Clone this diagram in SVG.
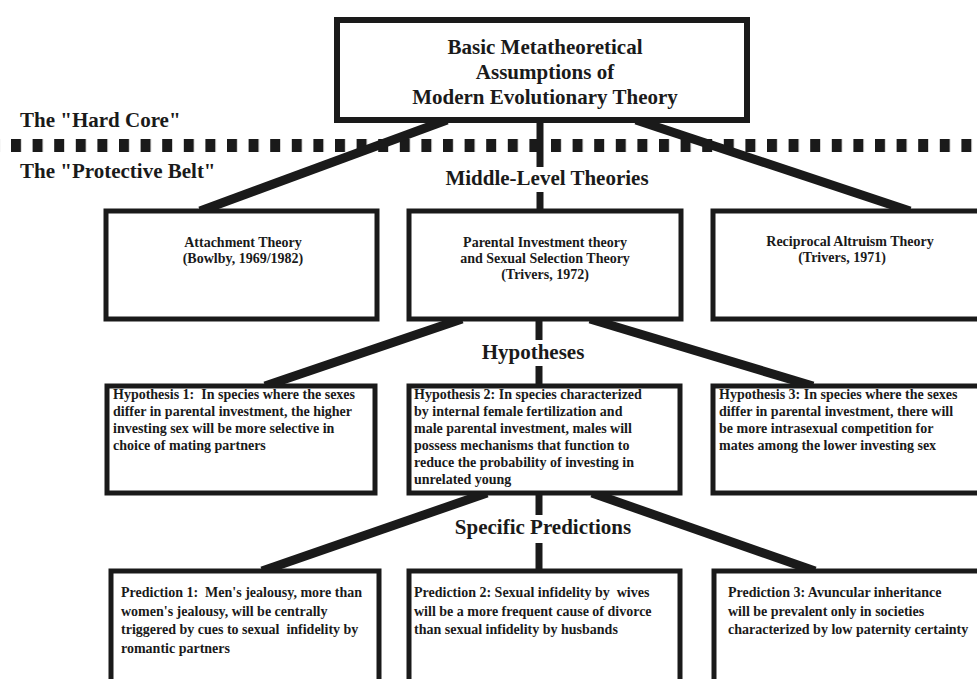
<svg xmlns="http://www.w3.org/2000/svg" width="977" height="679" viewBox="0 0 977 679">
<defs>
<style>
.bx{fill:#fff;stroke:#1a1a1a;stroke-width:5}
.t{font-family:"Liberation Serif","Times New Roman",serif;font-weight:bold;fill:#1a1a1a;white-space:pre}
.big{font-size:21px}
.sm{font-size:14px}
.c{text-anchor:middle}
.ln{stroke:#1a1a1a;stroke-width:9;fill:none}
.vl{stroke:#1a1a1a;stroke-width:7;fill:none}
</style>
<pattern id="dots" x="11" y="0" width="21.6" height="679" patternUnits="userSpaceOnUse">
<rect x="0" y="139" width="10" height="13" fill="#1a1a1a"/>
</pattern>
</defs>
<rect width="977" height="679" fill="#fff"/>
<rect x="0" y="139" width="977" height="13" fill="url(#dots)"/>
<text class="t big" x="20" y="127">The "Hard Core"</text>
<text class="t big" x="20" y="178">The "Protective Belt"</text>
<g id="connectors">
<line class="ln" x1="447" y1="120" x2="200" y2="211"/>
<line class="ln" x1="636" y1="120" x2="910" y2="211"/>
<line class="vl" x1="540" y1="120" x2="540" y2="167"/>
<line class="vl" x1="540" y1="192" x2="540" y2="211"/>
<line class="ln" x1="462" y1="319" x2="265" y2="386"/>
<line class="ln" x1="590" y1="319" x2="813" y2="386"/>
<line class="vl" x1="539" y1="319" x2="539" y2="340"/>
<line class="vl" x1="539" y1="366" x2="539" y2="386"/>
<line class="ln" x1="487" y1="493" x2="262" y2="571"/>
<line class="ln" x1="592" y1="493" x2="815" y2="571"/>
<line class="vl" x1="539" y1="493" x2="539" y2="515"/>
<line class="vl" x1="539" y1="543" x2="539" y2="571"/>
</g>
<text class="t big c" x="547" y="185">Middle-Level Theories</text>
<text class="t big c" x="533" y="359">Hypotheses</text>
<text class="t big c" x="543" y="534">Specific Predictions</text>
<g id="core">
<rect x="337" y="20" width="410" height="100" style="fill:#fff;stroke:#1a1a1a;stroke-width:6"/>
<text class="t big c" x="545" y="54">Basic Metatheoretical</text>
<text class="t big c" x="545" y="79">Assumptions of</text>
<text class="t big c" x="545" y="104">Modern Evolutionary Theory</text>
</g>
<g id="attachment">
<rect class="bx" x="106" y="211" width="271" height="108"/>
<text class="t sm c" x="243" y="247">Attachment Theory</text>
<text class="t sm c" x="243" y="263">(Bowlby, 1969/1982)</text>
</g>
<g id="parental">
<rect class="bx" x="409" y="211" width="272" height="108"/>
<text class="t sm c" x="545" y="247">Parental Investment theory</text>
<text class="t sm c" x="545" y="263">and Sexual Selection Theory</text>
<text class="t sm c" x="545" y="279">(Trivers, 1972)</text>
</g>
<g id="reciprocal">
<rect class="bx" x="713" y="211" width="280" height="108"/>
<text class="t sm c" x="850" y="246">Reciprocal Altruism Theory</text>
<text class="t sm c" x="842" y="262">(Trivers, 1971)</text>
</g>
<g id="hyp1">
<rect class="bx" x="107" y="386" width="268" height="107"/>
<text class="t sm"><tspan x="113" y="399">Hypothesis 1:  In species where the sexes</tspan><tspan x="113" y="416">differ in parental investment, the higher</tspan><tspan x="113" y="433">investing sex will be more selective in</tspan><tspan x="113" y="450">choice of mating partners</tspan></text>
</g>
<g id="hyp2">
<rect class="bx" x="409" y="386" width="271" height="107"/>
<text class="t sm"><tspan x="414" y="399">Hypothesis 2: In species characterized</tspan><tspan x="414" y="416">by internal female fertilization and</tspan><tspan x="414" y="433">male parental investment, males will</tspan><tspan x="414" y="450">possess mechanisms that function to</tspan><tspan x="414" y="467">reduce the probability of investing in</tspan><tspan x="414" y="484">unrelated young</tspan></text>
</g>
<g id="hyp3">
<rect class="bx" x="713" y="386" width="280" height="107"/>
<text class="t sm"><tspan x="719" y="399">Hypothesis 3: In species where the sexes</tspan><tspan x="719" y="416">differ in parental investment, there will</tspan><tspan x="719" y="433">be more intrasexual competition for</tspan><tspan x="719" y="450">mates among the lower investing sex</tspan></text>
</g>
<g id="pred1">
<rect class="bx" x="111" y="571" width="268" height="120"/>
<text class="t sm"><tspan x="121" y="597">Prediction 1:  Men's jealousy, more than</tspan><tspan x="121" y="615.5">women's jealousy, will be centrally</tspan><tspan x="121" y="634">triggered by cues to sexual  infidelity by</tspan><tspan x="121" y="652.5">romantic partners</tspan></text>
</g>
<g id="pred2">
<rect class="bx" x="409" y="571" width="271" height="120"/>
<text class="t sm"><tspan x="414" y="597">Prediction 2: Sexual infidelity by  wives</tspan><tspan x="414" y="615.5">will be a more frequent cause of divorce</tspan><tspan x="414" y="634">than sexual infidelity by husbands</tspan></text>
</g>
<g id="pred3">
<rect class="bx" x="714" y="571" width="280" height="120"/>
<text class="t sm"><tspan x="728" y="597">Prediction 3: Avuncular inheritance</tspan><tspan x="728" y="615.5">will be prevalent only in societies</tspan><tspan x="728" y="634">characterized by low paternity certainty</tspan></text>
</g>
</svg>
